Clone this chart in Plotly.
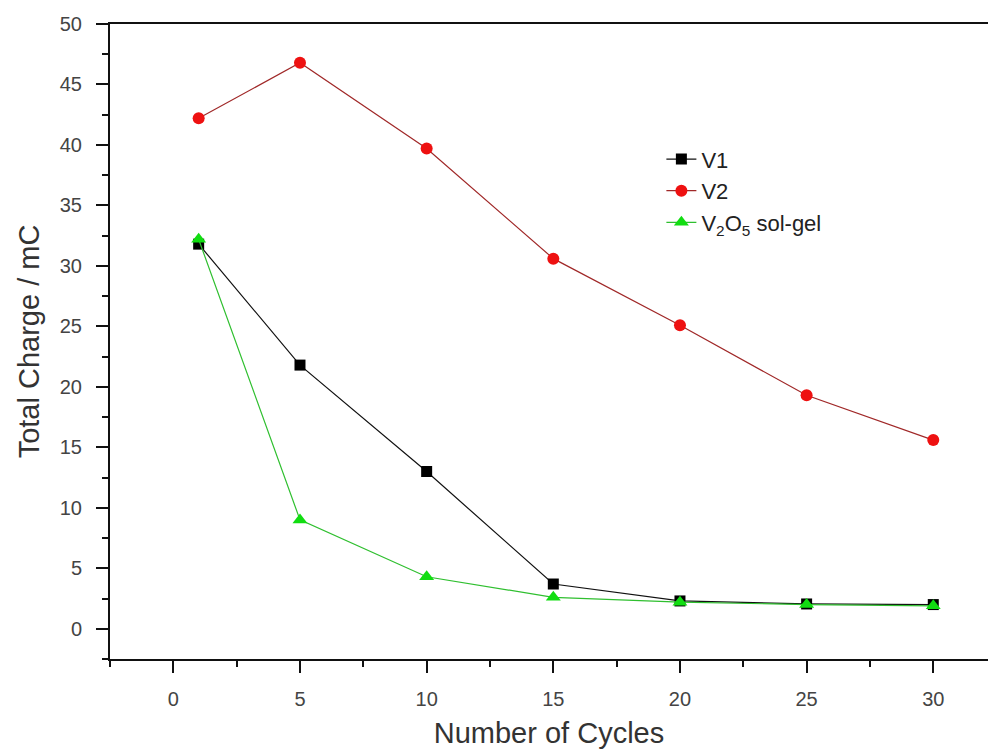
import plotly.graph_objects as go

cycles = [1, 5, 10, 15, 20, 25, 30]
v1 = [31.8, 21.8, 13.0, 3.7, 2.3, 2.05, 2.0]
v2 = [42.2, 46.8, 39.7, 30.6, 25.1, 19.3, 15.6]
solgel = [32.2, 9.0, 4.3, 2.6, 2.2, 2.0, 1.9]

names = ["V1", "V2", "V<sub>2</sub>O<sub>5</sub> sol-gel"]

fig = go.Figure()
fig.add_trace(go.Scatter(x=cycles, y=v1, name=names[0], mode="lines+markers",
                         line=dict(color="#111111", width=1.2),
                         marker=dict(symbol="square", size=11, color="#000000")))
fig.add_trace(go.Scatter(x=cycles, y=v2, name=names[1], mode="lines+markers",
                         line=dict(color="#a02828", width=1.2),
                         marker=dict(symbol="circle", size=12, color="#ee1111")))
fig.add_trace(go.Scatter(x=cycles, y=solgel, name=names[2], mode="lines+markers",
                         line=dict(color="#2fbf2f", width=1.2),
                         marker=dict(symbol="triangle-up", size=13, color="#11dd11")))

font_family = "Liberation Sans, Arial, sans-serif"

fig.update_layout(
    width=988, height=749,
    margin=dict(l=110, r=0, t=24, b=90),
    paper_bgcolor="white", plot_bgcolor="white",
    font=dict(family=font_family, color="#333333"),
    showlegend=True,
    legend=dict(x=0.628, y=0.82, xanchor="left", yanchor="top",
                bgcolor="rgba(0,0,0,0)", font=dict(size=22, color="#222222"),
                tracegroupgap=0),
    xaxis=dict(range=[-2.5, 32.16], tickvals=[0, 5, 10, 15, 20, 25, 30],
               ticks="outside", ticklen=12, tickwidth=1.5, tickcolor="#111111",
               minor=dict(dtick=2.5, tick0=0, ticks="outside", ticklen=6, tickwidth=1.5, tickcolor="#111111"),
               showline=True, linecolor="#111111", linewidth=2, mirror=True,
               showgrid=False, zeroline=False,
               tickfont=dict(size=20, color="#444444"), ticklabelstandoff=9,
               title=dict(text="Number of Cycles", font=dict(size=29, color="#333333"), standoff=14)),
    yaxis=dict(range=[-2.5, 50], tickvals=[0, 5, 10, 15, 20, 25, 30, 35, 40, 45, 50],
               ticks="outside", ticklen=12, tickwidth=1.5, tickcolor="#111111",
               minor=dict(dtick=2.5, tick0=0, ticks="outside", ticklen=6, tickwidth=1.5, tickcolor="#111111"),
               showline=True, linecolor="#111111", linewidth=2, mirror=False,
               showgrid=False, zeroline=False,
               tickfont=dict(size=20, color="#444444"), ticklabelstandoff=10,
               title=dict(text="Total Charge / mC", font=dict(size=29, color="#333333"), standoff=12)),
)

fig.write_html("out.html")
